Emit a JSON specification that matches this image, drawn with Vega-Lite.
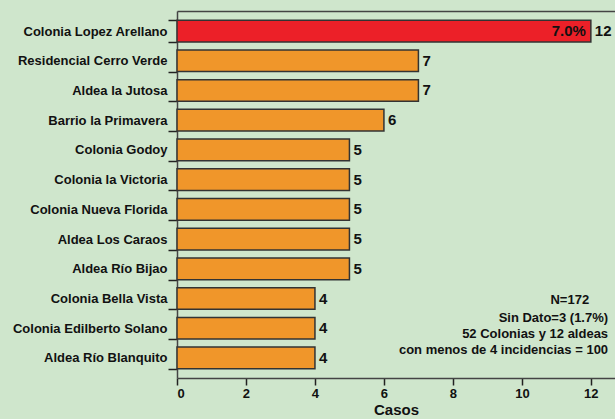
{
  "$schema": "https://vega.github.io/schema/vega-lite/v6.json",
  "autosize": {"type": "none"},
  "width": 438,
  "height": 367,
  "padding": {"left": 177, "top": 11, "right": 0, "bottom": 41},
  "background": "#cfe6cc",
  "config": {"view": {"stroke": null}, "font": "Liberation Sans"},
  "data": {"values": [
    {"lugar": "Colonia Lopez Arellano", "casos": 12, "grupo": "max", "pct": "7.0%"},
    {"lugar": "Residencial Cerro Verde", "casos": 7, "grupo": "otro", "pct": ""},
    {"lugar": "Aldea la Jutosa", "casos": 7, "grupo": "otro", "pct": ""},
    {"lugar": "Barrio la Primavera", "casos": 6, "grupo": "otro", "pct": ""},
    {"lugar": "Colonia Godoy", "casos": 5, "grupo": "otro", "pct": ""},
    {"lugar": "Colonia la Victoria", "casos": 5, "grupo": "otro", "pct": ""},
    {"lugar": "Colonia Nueva Florida", "casos": 5, "grupo": "otro", "pct": ""},
    {"lugar": "Aldea Los Caraos", "casos": 5, "grupo": "otro", "pct": ""},
    {"lugar": "Aldea Río Bijao", "casos": 5, "grupo": "otro", "pct": ""},
    {"lugar": "Colonia Bella Vista", "casos": 4, "grupo": "otro", "pct": ""},
    {"lugar": "Colonia Edilberto Solano", "casos": 4, "grupo": "otro", "pct": ""},
    {"lugar": "Aldea Río Blanquito", "casos": 4, "grupo": "otro", "pct": ""}
  ]},
  "encoding": {
    "y": {
      "field": "lugar", "type": "nominal", "sort": null,
      "scale": {"paddingInner": 0.27, "paddingOuter": 0.31},
      "axis": {
        "title": null, "tickBand": "extent", "tickSize": 9, "tickWidth": 1.5, "tickColor": "#222",
        "domainColor": "#444", "domainWidth": 1.5, "labelPadding": 1,
        "labelFont": "Liberation Sans", "labelFontWeight": "bold", "labelFontSize": 13, "labelColor": "#111"
      }
    }
  },
  "layer": [
    {
      "mark": {"type": "bar", "stroke": "#333", "strokeWidth": 1.5},
      "encoding": {
        "x": {
          "field": "casos", "type": "quantitative",
          "scale": {"domain": [0, 12.7], "nice": false},
          "axis": {
            "orient": "bottom", "title": "Casos", "values": [0, 2, 4, 6, 8, 10, 12], "grid": false,
            "tickSize": 7, "tickWidth": 1.5, "tickColor": "#222", "domainColor": "#444", "domainWidth": 1.5,
            "labelFontWeight": "bold", "labelFontSize": 13, "labelColor": "#111", "labelPadding": 2,
            "titleFontWeight": "bold", "titleFontSize": 15, "titleColor": "#111", "titlePadding": 2
          }
        },
        "color": {"field": "grupo", "type": "nominal", "scale": {"domain": ["max", "otro"], "range": ["#ec2028", "#f0962a"]}, "legend": null}
      }
    },
    {
      "mark": {"type": "text", "align": "left", "baseline": "middle", "dx": 4, "fontWeight": "bold", "fontSize": 15, "color": "#111"},
      "encoding": {
        "x": {
          "field": "casos", "type": "quantitative",
          "axis": {"orient": "top", "labels": false, "ticks": false, "title": null, "grid": false, "domainColor": "#444", "domainWidth": 1.5}
        },
        "text": {"field": "casos", "type": "quantitative"}
      }
    },
    {
      "transform": [{"filter": "datum.pct != ''"}],
      "mark": {"type": "text", "align": "right", "baseline": "middle", "dx": -5, "fontWeight": "bold", "fontSize": 15, "color": "#111"},
      "encoding": {
        "x": {"field": "casos", "type": "quantitative", "axis": null},
        "text": {"field": "pct", "type": "nominal"}
      }
    },
    {
      "data": {"values": [{"nota": "N=172", "pos": 11.95, "lugar": "Colonia Bella Vista"}]},
      "mark": {"type": "text", "align": "right", "baseline": "middle", "dy": 1, "fontWeight": "bold", "fontSize": 13, "color": "#111"},
      "encoding": {
        "x": {"field": "pos", "type": "quantitative", "axis": null},
        "text": {"field": "nota", "type": "nominal"}
      }
    },
    {
      "data": {"values": [{"nota": "Sin Dato=3 (1.7%)|52 Colonias y 12 aldeas|con menos de 4 incidencias = 100", "pos": 12.5, "lugar": "Colonia Bella Vista"}]},
      "mark": {"type": "text", "align": "right", "baseline": "top", "dy": 13, "lineBreak": "|", "lineHeight": 16, "fontWeight": "bold", "fontSize": 13, "color": "#111"},
      "encoding": {
        "x": {"field": "pos", "type": "quantitative", "axis": null},
        "text": {"field": "nota", "type": "nominal"}
      }
    }
  ],
  "resolve": {"axis": {"x": "independent"}}
}
